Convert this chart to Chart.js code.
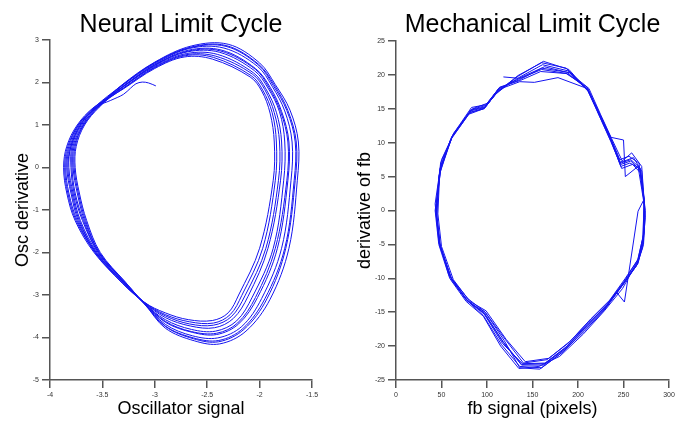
<!DOCTYPE html>
<html lang="en">
<head>
<meta charset="UTF-8">
<title>Neural and Mechanical Limit Cycles</title>
<script src="https://cdn.jsdelivr.net/npm/chart.js"></script>
<style>
  html, body { margin: 0; padding: 0; background: #fff; overflow: hidden; }
  .box { position: absolute; top: 0; height: 421px; }
  #left { left: 0; width: 345px; }
  #right { left: 345px; width: 344px; }
</style>
</head>
<body>

<div class="box" id="left"><canvas id="neuralChart"></canvas></div>
<div class="box" id="right"><canvas id="mechChart"></canvas></div>

<script>
// Neural oscillator trajectory: start tail, then the loops (one row per loop)
const neuralX = [
  -2.99, -3.06, -3.12, -3.18, -3.23, -3.30, -3.42,
  -3.56, -3.71, -3.80, -3.82, -3.78, -3.71, -3.55, -3.30, -3.10, -2.90, -2.66, -2.43, -2.25, -2.11, -1.92, -1.80, -1.79, -1.84, -1.94, -2.06, -2.40, -2.70, -3.00, -3.31,
  -3.54, -3.68, -3.77, -3.78, -3.74, -3.67, -3.53, -3.29, -3.10, -2.90, -2.63, -2.39, -2.15, -1.93, -1.75, -1.66, -1.65, -1.73, -1.86, -2.01, -2.32, -2.66, -3.00, -3.32,
  -3.57, -3.73, -3.82, -3.85, -3.82, -3.74, -3.57, -3.31, -3.10, -2.90, -2.67, -2.44, -2.28, -2.17, -1.97, -1.85, -1.84, -1.88, -1.97, -2.08, -2.44, -2.71, -3.00, -3.30,
  -3.55, -3.70, -3.79, -3.80, -3.77, -3.69, -3.54, -3.29, -3.10, -2.90, -2.64, -2.41, -2.20, -2.02, -1.83, -1.73, -1.72, -1.79, -1.90, -2.04, -2.36, -2.68, -3.00, -3.31,
  -3.57, -3.73, -3.83, -3.86, -3.83, -3.75, -3.57, -3.31, -3.10, -2.90, -2.62, -2.38, -2.13, -1.90, -1.72, -1.64, -1.63, -1.71, -1.85, -2.00, -2.30, -2.65, -3.00, -3.32,
  -3.54, -3.68, -3.76, -3.77, -3.73, -3.66, -3.53, -3.28, -3.10, -2.90, -2.65, -2.42, -2.22, -2.07, -1.87, -1.77, -1.76, -1.81, -1.92, -2.05, -2.38, -2.69, -3.00, -3.31,
  -3.56, -3.71, -3.80, -3.83, -3.79, -3.72, -3.56, -3.30, -3.10, -2.90, -2.68, -2.45, -2.30, -2.20, -2.00, -1.87, -1.86, -1.90, -1.98, -2.09, -2.45, -2.72, -3.00, -3.30,
  -3.58, -3.74, -3.84, -3.87, -3.84, -3.76, -3.58, -3.31, -3.10, -2.90, -2.64, -2.40, -2.17, -1.98, -1.79, -1.70, -1.69, -1.76, -1.88, -2.02, -2.34, -2.67, -3.00, -3.32,
  -3.55, -3.69, -3.78, -3.79, -3.76, -3.68, -3.54, -3.29, -3.10, -2.90, -2.67, -2.44, -2.27, -2.14, -1.94, -1.82, -1.81, -1.86, -1.95, -2.07, -2.42, -2.71, -3.00, -3.30,
  -3.56, -3.72, -3.81, -3.84, -3.80, -3.73, -3.56, -3.30, -3.10, -2.90, -2.65, -2.41, -2.21, -2.04, -1.85, -1.74, -1.73, -1.80, -1.91, -2.04, -2.37, -2.68, -3.00, -3.31,
  -3.53, -3.67, -3.75, -3.76, -3.72, -3.65, -3.52, -3.28, -3.10, -2.90, -2.63, -2.39, -2.16, -1.95, -1.76, -1.67, -1.66, -1.74, -1.87, -2.01, -2.32, -2.66, -3.00, -3.32,
  -3.54
];
const neuralY = [
  1.92, 1.99, 2.01, 1.97, 1.87, 1.72, 1.58,
  1.42, 1.00, 0.50, 0.00, -0.60, -1.25, -2.00, -2.71, -3.18, -3.53, -3.73, -3.77, -3.55, -3.03, -1.90, -0.30, 0.60, 1.30, 1.85, 2.23, 2.66, 2.68, 2.38, 1.88,
  1.42, 1.00, 0.50, 0.00, -0.60, -1.25, -2.00, -2.70, -3.20, -3.74, -4.03, -4.10, -3.81, -3.09, -1.90, -0.30, 0.60, 1.34, 1.94, 2.43, 2.87, 2.83, 2.47, 1.92,
  1.43, 1.00, 0.50, 0.00, -0.60, -1.25, -2.00, -2.71, -3.17, -3.46, -3.63, -3.66, -3.46, -3.01, -1.90, -0.30, 0.60, 1.29, 1.82, 2.16, 2.59, 2.63, 2.35, 1.86,
  1.41, 1.00, 0.50, 0.00, -0.60, -1.25, -2.00, -2.71, -3.19, -3.64, -3.88, -3.93, -3.68, -3.06, -1.90, -0.30, 0.60, 1.32, 1.89, 2.33, 2.76, 2.76, 2.42, 1.90,
  1.42, 1.00, 0.50, 0.00, -0.60, -1.25, -2.00, -2.72, -3.21, -3.78, -4.08, -4.15, -3.85, -3.10, -1.90, -0.30, 0.60, 1.35, 1.95, 2.46, 2.90, 2.86, 2.48, 1.93,
  1.42, 1.00, 0.50, 0.00, -0.60, -1.25, -2.00, -2.70, -3.19, -3.58, -3.81, -3.85, -3.61, -3.05, -1.90, -0.30, 0.60, 1.31, 1.87, 2.28, 2.71, 2.72, 2.40, 1.89,
  1.42, 1.00, 0.50, 0.00, -0.60, -1.25, -2.00, -2.70, -3.17, -3.42, -3.58, -3.60, -3.42, -3.00, -1.90, -0.30, 0.60, 1.28, 1.80, 2.13, 2.55, 2.60, 2.33, 1.85,
  1.42, 1.00, 0.50, 0.00, -0.60, -1.25, -2.00, -2.72, -3.20, -3.69, -3.96, -4.01, -3.74, -3.08, -1.90, -0.30, 0.60, 1.33, 1.91, 2.38, 2.81, 2.80, 2.44, 1.91,
  1.43, 1.00, 0.50, 0.00, -0.60, -1.25, -2.00, -2.70, -3.18, -3.49, -3.68, -3.71, -3.51, -3.02, -1.90, -0.30, 0.60, 1.29, 1.83, 2.20, 2.62, 2.65, 2.36, 1.87,
  1.41, 1.00, 0.50, 0.00, -0.60, -1.25, -2.00, -2.71, -3.19, -3.62, -3.86, -3.90, -3.66, -3.06, -1.90, -0.30, 0.60, 1.32, 1.88, 2.31, 2.74, 2.74, 2.41, 1.89,
  1.42, 1.00, 0.50, 0.00, -0.60, -1.25, -2.00, -2.70, -3.20, -3.73, -4.01, -4.07, -3.79, -3.09, -1.90, -0.30, 0.60, 1.34, 1.93, 2.41, 2.85, 2.82, 2.46, 1.92,
  1.42
];

// Mechanical (fb signal) trajectory: start point, then the loops
const mechX = [
  118,
  135, 160, 188, 211, 224, 236, 247, 258, 268, 273, 272, 266, 250, 232, 210, 185, 162, 138, 118, 97, 78, 60, 48, 44, 49, 62, 82, 98, 112,
  136, 152, 178, 210, 223, 235, 246, 256, 267, 272, 273, 267, 252, 235, 214, 190, 166, 140, 120, 98, 80, 62, 49, 45, 47, 60, 80, 96, 110,
  134, 162, 190, 212, 225, 237, 248, 260, 269, 274, 272, 265, 248, 230, 207, 182, 160, 136, 116, 96, 76, 58, 47, 43, 50, 64, 84, 100, 114,
  137, 159, 187, 210, 224, 236, 250, 252, 266, 272, 266, 251, 242, 228, 208, 184, 158, 136, 119, 98, 79, 61, 48, 44, 48, 61, 81, 97, 111,
  135, 161, 189, 211, 224, 236, 246, 259, 270, 274, 271, 264, 249, 231, 212, 188, 164, 139, 117, 97, 77, 59, 48, 44, 49, 63, 83, 99, 113,
  136, 163, 191, 212, 225, 237, 249, 261, 270, 273, 272, 266, 251, 233, 213, 192, 168, 142, 121, 99, 81, 63, 50, 46, 48, 61, 81, 97, 111,
  134, 160, 187, 210, 223, 235, 247, 257, 268, 273, 271, 265, 249, 229, 206, 180, 157, 135, 115, 96, 77, 59, 47, 43, 50, 63, 83, 99, 113,
  135, 160, 188, 211, 224, 236, 247, 258, 268, 273, 272, 266, 250, 232, 211, 186, 163, 138, 118, 97, 78, 60, 48, 44, 49, 62, 82, 98, 112, 128
];
const mechY = [
  19.7,
  19.5, 21.0, 20.4, 17.8, 14.0, 10.5, 6.8, 7.3, 6.0, 1.0, -4.0, -7.5, -10.8, -14.0, -17.0, -20.5, -22.8, -22.8, -19.5, -15.2, -13.2, -9.8, -5.0, 0.0, 6.5, 11.0, 14.8, 15.3, 17.8,
  19.0, 18.9, 19.6, 18.0, 14.5, 11.0, 7.5, 8.0, 7.0, 2.0, -3.0, -7.0, -10.0, -13.2, -16.0, -19.5, -22.0, -22.5, -19.0, -15.0, -13.5, -10.5, -5.5, -1.0, 5.0, 10.5, 14.2, 15.0, 17.2,
  19.8, 22.0, 20.8, 17.5, 13.5, 10.0, 6.2, 6.8, 5.5, 0.0, -5.0, -8.0, -11.2, -14.5, -17.8, -21.0, -23.2, -23.0, -19.8, -15.5, -13.0, -9.5, -4.5, 1.0, 7.5, 11.5, 15.0, 15.8, 18.2,
  19.2, 20.5, 20.2, 18.2, 14.2, 10.8, 10.4, 5.0, 6.5, 1.5, -0.1, -13.5, -12.0, -14.8, -17.5, -20.8, -23.4, -23.2, -19.2, -15.0, -13.0, -10.0, -5.2, -0.5, 6.0, 10.8, 14.5, 15.0, 17.5,
  19.6, 21.5, 20.6, 17.6, 13.8, 10.2, 7.0, 8.5, 6.5, -1.0, -5.5, -8.2, -11.0, -14.2, -16.5, -20.0, -22.5, -22.6, -19.6, -15.3, -13.1, -9.7, -4.8, 0.5, 7.0, 11.2, 14.9, 15.5, 18.0,
  19.3, 21.2, 20.3, 18.0, 14.1, 10.6, 7.2, 7.8, 5.8, 0.5, -4.5, -7.8, -10.5, -13.6, -16.2, -19.2, -21.8, -22.3, -19.0, -14.8, -13.4, -10.2, -5.3, -0.5, 5.5, 10.6, 14.4, 15.1, 17.4,
  19.9, 21.8, 21.0, 17.9, 14.3, 10.9, 6.5, 7.0, 6.2, 1.5, -4.2, -7.6, -11.5, -14.8, -18.2, -21.5, -23.0, -23.3, -20.0, -15.6, -13.4, -10.0, -5.0, 0.0, 6.8, 11.3, 15.2, 15.6, 18.0,
  19.4, 20.8, 20.2, 17.9, 14.0, 10.5, 7.0, 7.5, 6.3, 0.8, -3.5, -7.2, -10.6, -13.9, -16.8, -20.3, -22.6, -22.7, -19.4, -15.1, -13.3, -9.9, -4.9, -0.2, 6.2, 11.0, 14.7, 15.2, 17.6, 19.2
];

// axis ranges: [min, max, step]
const neuralXRange = [-4, -1.5, 0.5];
const neuralYRange = [-5, 3, 1];
const mechXRange = [0, 300, 50];
const mechYRange = [-25, 25, 5];

Chart.defaults.font.family = '"Liberation Sans", Arial, sans-serif';

const lineColor = 'rgb(20, 20, 240)';
const axisColor = '#555';

// big title centred above the plot area
const plotTitle = {
  id: 'plotTitle',
  afterDraw(chart, args, opts) {
    const ctx = chart.ctx;
    const area = chart.chartArea;
    ctx.save();
    ctx.font = '25px "Liberation Sans", Arial, sans-serif';
    ctx.fillStyle = '#000';
    ctx.textAlign = 'center';
    ctx.textBaseline = 'alphabetic';
    ctx.fillText(opts.text, (area.left + area.right) / 2, 32);
    ctx.restore();
  }
};

function axis(range, titleText, titlePad, fit) {
  return {
    type: 'linear',
    min: range[0],
    max: range[1],
    ticks: {
      stepSize: range[2],
      autoSkip: false,
      maxRotation: 0,
      padding: 3,
      color: '#333',
      font: { size: 7 },
      callback: v => String(Math.round(v * 100) / 100)
    },
    grid: {
      drawOnChartArea: false,
      drawTicks: true,
      tickLength: 8,
      color: axisColor,
      lineWidth: 1.5
    },
    border: { color: axisColor, width: 1.5 },
    title: {
      display: true,
      text: titleText,
      color: '#000',
      font: { size: 18 },
      padding: titlePad
    },
    afterFit: fit
  };
}

function makeChart(id, xs, ys, opts) {
  const points = xs.map((x, i) => ({ x: x, y: ys[i] }));
  return new Chart(document.getElementById(id), {
    type: 'scatter',
    data: {
      datasets: [{
        data: points,
        showLine: true,
        borderColor: lineColor,
        borderWidth: 1,
        pointRadius: 0,
        tension: opts.tension,
        fill: false
      }]
    },
    options: {
      responsive: true,
      maintainAspectRatio: false,
      animation: false,
      layout: { padding: opts.padding },
      plugins: {
        legend: { display: false },
        tooltip: { enabled: false },
        plotTitle: { text: opts.title }
      },
      scales: {
        x: axis(opts.xRange, opts.xTitle, { top: 0, bottom: 1 }, s => { s.height = 41; }),
        y: axis(opts.yRange, opts.yTitle, { top: opts.yTitlePad, bottom: 0 }, s => { s.width = opts.yWidth; })
      }
    },
    plugins: [plotTitle]
  });
}

makeChart('neuralChart', neuralX, neuralY, {
  title: 'Neural Limit Cycle',
  xTitle: 'Oscillator signal',
  yTitle: 'Osc derivative',
  xRange: neuralXRange,
  yRange: neuralYRange,
  padding: { top: 40, right: 33, left: 0, bottom: 0 },
  yWidth: 50,
  yTitlePad: 12,
  tension: 0.35
});

makeChart('mechChart', mechX, mechY, {
  title: 'Mechanical Limit Cycle',
  xTitle: 'fb signal (pixels)',
  yTitle: 'derivative of fb',
  xRange: mechXRange,
  yRange: mechYRange,
  padding: { top: 41, right: 20, left: 0, bottom: 0 },
  yWidth: 51,
  yTitlePad: 9,
  tension: 0
});
</script>

</body>
</html>
